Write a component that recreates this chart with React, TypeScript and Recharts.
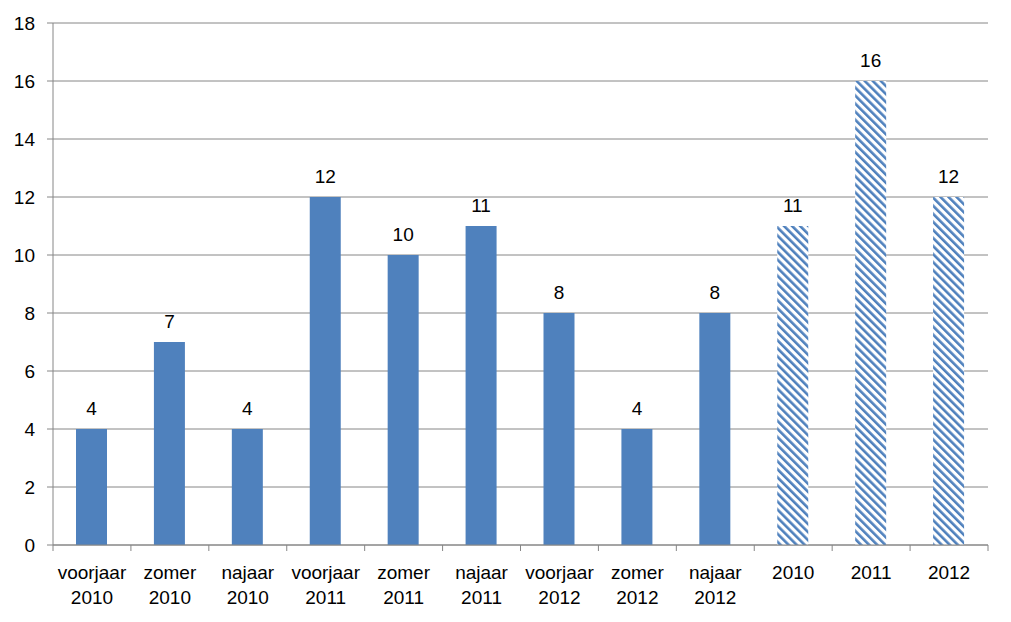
import React from "react";
import { BarChart, Bar, XAxis, YAxis, CartesianGrid, Cell, LabelList } from "recharts";

const categories = [
  "voorjaar 2010", "zomer 2010", "najaar 2010",
  "voorjaar 2011", "zomer 2011", "najaar 2011",
  "voorjaar 2012", "zomer 2012", "najaar 2012",
  "2010", "2011", "2012",
];
const values = [4, 7, 4, 12, 10, 11, 8, 4, 8, 11, 16, 12];
const hatched = [false, false, false, false, false, false, false, false, false, true, true, true];
const yTicks = [0, 2, 4, 6, 8, 10, 12, 14, 16, 18];

const data = categories.map((c, i) => ({ cat: c, value: values[i], hatched: hatched[i] }));

const BLUE = "#4F81BD";
const GRID = "#868686";
const FONT = "'Liberation Sans', Arial, sans-serif";
const FS = 19;

const XTick = (props: any) => {
  const { x, y, payload, index } = props;
  const off = payload.offset || 0;
  const lines = String(payload.value).split(" ");
  const isLast = index === categories.length - 1;
  return (
    <g>
      <line x1={x - off} x2={x - off} y1={y} y2={y + 6} stroke={GRID} strokeWidth={1} />
      {isLast && <line x1={x + off} x2={x + off} y1={y} y2={y + 6} stroke={GRID} strokeWidth={1} />}
      {lines.map((l, i) => (
        <text key={i} x={x} y={y + 34 + i * 25} textAnchor="middle" fontSize={FS} fontFamily={FONT} fill="#000">
          {l}
        </text>
      ))}
    </g>
  );
};

export default function App() {
  return (
    <div style={{ position: "absolute", left: 0, top: 0, width: 1011, height: 622, background: "#fff" }}>
      <BarChart width={1011} height={622} data={data} margin={{ top: 23, right: 23, bottom: 0, left: 0 }}>
        <defs>
          <pattern id="hatch" patternUnits="userSpaceOnUse" width="5.7" height="5.7" patternTransform="rotate(-45)">
            <rect x="0" y="0" width="5.7" height="5.7" fill="#fff" />
            <rect x="0" y="0" width="2.6" height="5.7" fill={BLUE} />
          </pattern>
        </defs>
        <CartesianGrid vertical={false} stroke={GRID} strokeWidth={1} />
        <XAxis
          dataKey="cat"
          interval={0}
          height={77}
          tickSize={0}
          tickMargin={0}
          tickLine={false}
          axisLine={{ stroke: GRID }}
          tick={<XTick />}
        />
        <YAxis
          domain={[0, 18]}
          ticks={yTicks}
          width={53}
          tickSize={6}
          tickMargin={12}
          axisLine={{ stroke: GRID }}
          tickLine={{ stroke: GRID }}
          tick={{ fontSize: FS, fontFamily: FONT, fill: "#000" }}
          interval={0}
        />
        <Bar dataKey="value" barSize={31} isAnimationActive={false}>
          {data.map((d, i) => (
            <Cell key={i} fill={d.hatched ? "url(#hatch)" : BLUE} />
          ))}
          <LabelList dataKey="value" position="top" offset={14} fontSize={FS} fontFamily={FONT} fill="#000" />
        </Bar>
      </BarChart>
    </div>
  );
}
